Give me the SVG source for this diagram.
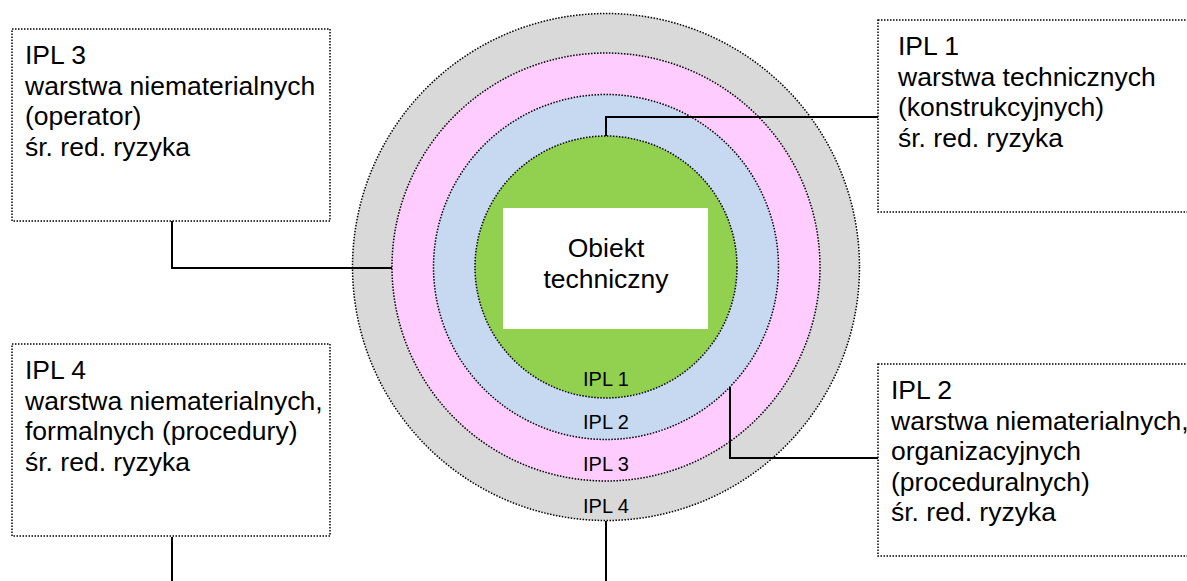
<svg xmlns="http://www.w3.org/2000/svg" width="1187" height="581" viewBox="0 0 1187 581">
  <style>
    .ring { stroke: #000; stroke-width: 1.5; stroke-dasharray: 1.5 1.5; }
    .box { fill: #fff; stroke: #000; stroke-width: 1.5; stroke-dasharray: 1.5 1.5; }
    .txt { font-family: "Liberation Sans", Arial, sans-serif; font-size: 26.5px; fill: #000; }
    .lbl { font-family: "Liberation Sans", Arial, sans-serif; font-size: 20px; fill: #000; text-anchor: middle; }
    .conn { fill: none; stroke: #000; stroke-width: 2; }
  </style>

  <rect width="1187" height="581" fill="#fff"/>

  <!-- concentric protection layers -->
  <g id="layers">
    <circle id="ipl4-ring" class="ring" cx="606" cy="267" r="253.5" fill="#d9d9d9"/>
    <circle id="ipl3-ring" class="ring" cx="606" cy="267" r="214" fill="#ffccff"/>
    <circle id="ipl2-ring" class="ring" cx="606" cy="267" r="172.5" fill="#c6d9f0"/>
    <circle id="ipl1-ring" class="ring" cx="606" cy="267" r="131" fill="#92d050"/>
  </g>

  <g id="core">
    <rect x="503" y="208" width="205" height="121" fill="#fff"/>
    <text class="txt" x="606" y="257" text-anchor="middle">Obiekt</text>
    <text class="txt" x="606" y="288" text-anchor="middle">techniczny</text>
  </g>

  <g id="ring-labels">
    <text class="lbl" x="606" y="386">IPL 1</text>
    <text class="lbl" x="606" y="429">IPL 2</text>
    <text class="lbl" x="606" y="471">IPL 3</text>
    <text class="lbl" x="606" y="513">IPL 4</text>
  </g>

  <!-- connectors -->
  <g id="connectors">
    <path class="conn" d="M172 221 V268 H392"/>
    <path class="conn" d="M878 117 H606 V136"/>
    <path class="conn" d="M878 458 H730 V387"/>
    <path class="conn" d="M172 537 V581"/>
    <path class="conn" d="M606 521 V581"/>
  </g>

  <g id="box-ipl3">
    <rect class="box" x="12" y="29" width="318" height="192"/>
    <text class="txt" x="25" y="64">IPL 3</text>
    <text class="txt" x="25" y="94.5">warstwa niematerialnych</text>
    <text class="txt" x="25" y="125">(operator)</text>
    <text class="txt" x="25" y="155.5">śr. red. ryzyka</text>
  </g>

  <g id="box-ipl1">
    <rect class="box" x="878" y="20" width="320" height="192"/>
    <text class="txt" x="898" y="55">IPL 1</text>
    <text class="txt" x="898" y="85.5">warstwa technicznych</text>
    <text class="txt" x="898" y="116">(konstrukcyjnych)</text>
    <text class="txt" x="898" y="146.5">śr. red. ryzyka</text>
  </g>

  <g id="box-ipl4">
    <rect class="box" x="12" y="344" width="318" height="192"/>
    <text class="txt" x="25" y="379">IPL 4</text>
    <text class="txt" x="25" y="409.5">warstwa niematerialnych,</text>
    <text class="txt" x="25" y="440">formalnych (procedury)</text>
    <text class="txt" x="25" y="470.5">śr. red. ryzyka</text>
  </g>

  <g id="box-ipl2">
    <rect class="box" x="878" y="364" width="320" height="192"/>
    <text class="txt" x="891" y="399">IPL 2</text>
    <text class="txt" x="891" y="429.5">warstwa niematerialnych,</text>
    <text class="txt" x="891" y="460">organizacyjnych</text>
    <text class="txt" x="891" y="490.5">(proceduralnych)</text>
    <text class="txt" x="891" y="521">śr. red. ryzyka</text>
  </g>
</svg>
